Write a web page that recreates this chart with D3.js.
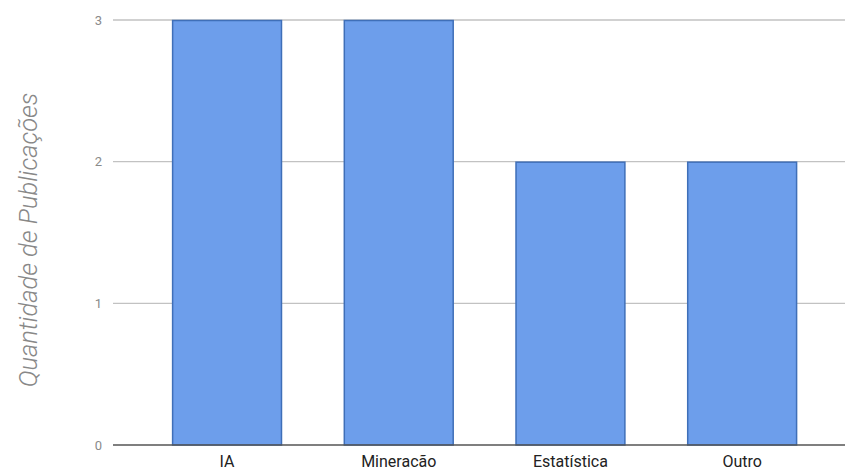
<!DOCTYPE html>
<html>
<head>
<meta charset="utf-8">
<script src="https://cdn.jsdelivr.net/npm/d3@7"></script>
<style>
  html, body { margin: 0; padding: 0; background: #fff; }
  svg { display: block; }
</style>
</head>
<body>
<svg id="chart" width="845" height="470"></svg>
<script>
const categories = ["IA", "Mineracão", "Estatística", "Outro"];
const values = [3, 3, 2, 2];
const yTicks = [0, 1, 2, 3];
const yTitle = "Quantidade de Publicações";

const svg = d3.select("#chart");
const plotLeft = 113, plotRight = 845, plotTop = 20, plotBottom = 445;

const x = d3.scaleBand().domain(categories).range([141.2, 828]).paddingInner(0.36).paddingOuter(0.18);
const y = d3.scaleLinear().domain([0, 3]).range([plotBottom, plotTop]);

// gridlines
svg.append("g").selectAll("line").data(yTicks.filter(d => d !== 0)).join("line")
  .attr("x1", plotLeft).attr("x2", plotRight)
  .attr("y1", d => y(d)).attr("y2", d => y(d))
  .attr("stroke", "#c2c2c2").attr("stroke-width", 1.3);

// tick labels
svg.append("g").selectAll("text").data(yTicks).join("text")
  .attr("x", 102).attr("y", d => y(d)).attr("dy", "0.35em")
  .attr("text-anchor", "end")
  .attr("font-family", "Roboto, Arial, sans-serif").attr("font-size", 13)
  .attr("fill", "#8a8a8a")
  .text(d => d);

// bars
svg.append("g").selectAll("rect").data(values).join("rect")
  .attr("x", (d, i) => x(categories[i]) + 0.5)
  .attr("y", d => y(d) + 0.5)
  .attr("width", x.bandwidth() - 1)
  .attr("height", d => y(0) - y(d) - 0.5)
  .attr("fill", "#6d9eeb")
  .attr("stroke", "#3f6fb8")
  .attr("stroke-width", 1.5);

// baseline
svg.append("line")
  .attr("x1", plotLeft).attr("x2", plotRight)
  .attr("y1", y(0)).attr("y2", y(0))
  .attr("stroke", "#555").attr("stroke-width", 1.3);

// category labels
svg.append("g").selectAll("text").data(categories).join("text")
  .attr("x", d => x(d) + x.bandwidth() / 2).attr("y", 467)
  .attr("text-anchor", "middle")
  .attr("font-family", "Roboto, Arial, sans-serif").attr("font-size", 16)
  .attr("fill", "#222")
  .text(d => d);

// y title
svg.append("text")
  .attr("transform", `translate(37, 240) rotate(-90)`)
  .attr("text-anchor", "middle")
  .attr("font-family", "Roboto, Arial, sans-serif").attr("font-size", 25.5)
  .attr("font-weight", 300)
  .attr("font-style", "italic")
  .attr("fill", "#888")
  .text(yTitle);
</script>
</body>
</html>
